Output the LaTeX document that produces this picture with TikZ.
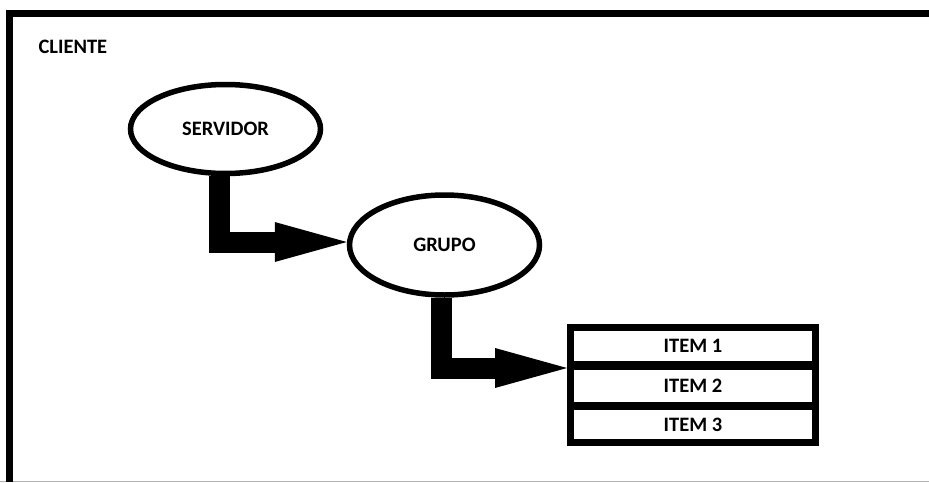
\documentclass[tikz,border=0pt]{standalone}
\usepackage{fontspec}
\setmainfont{Carlito}
\usetikzlibrary{shapes.geometric,arrows.meta}

\tikzset{
  label text/.style={font=\bfseries\fontsize{20.5}{24}\selectfont, text=black},
  bubble/.style={ellipse, draw=black, line width=5.5pt, fill=white, inner sep=0pt, label text},
  itembox/.style={rectangle, draw=black, line width=7pt, fill=white, inner sep=0pt,
    minimum width=245pt, label text},
  conn/.style={line width=21pt, line join=miter,
    -{Triangle[length=72pt,width=40pt,line width=0pt]}},
}

\begin{document}
\begin{tikzpicture}[x=1pt,y=-1pt]
  \useasboundingbox (0,0) rectangle (929,482);

  % outer client frame: thin grey base line, heavy top and left edges
  \fill[black!30] (0,480.5) rectangle (929,482);
  \fill[black] (6,10) rectangle (929,17);
  \fill[black] (6,10) rectangle (13,482);
  \node[label text, anchor=west] (cliente) at (35,47) {CLIENTE};

  % server and group bubbles
  \node[bubble, minimum width=190pt, minimum height=89pt] (srv) at (225.5,129) {SERVIDOR};
  \node[bubble, minimum width=190pt, minimum height=100pt] (grp) at (444.5,245) {GRUPO};

  % stacked item list
  \node[itembox, minimum height=37pt]   (item1) at (693,346)    {ITEM 1};
  \node[itembox, minimum height=38.5pt] (item2) at (693,385.75) {ITEM 2};
  \node[itembox, minimum height=36pt]   (item3) at (693,424.5)  {ITEM 3};

  % elbow connectors
  \draw[conn] ([xshift=-6pt]srv.south) |- ([yshift=3pt]grp.west);
  \draw[conn] ([xshift=-3pt]grp.south) |- (item1.south west);
\end{tikzpicture}
\end{document}
